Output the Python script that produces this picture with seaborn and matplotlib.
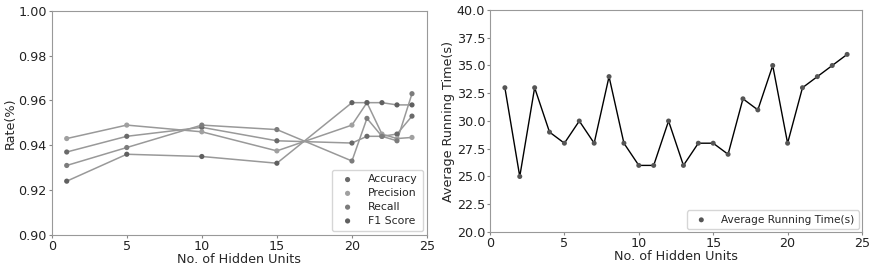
import numpy as np
import pandas as pd
from matplotlib import pyplot as plt
import seaborn as sns

# hidden units used for the rate plot
units = [1, 5, 10, 15, 20, 21, 22, 23, 24]
accuracy = [0.937, 0.944, 0.948, 0.942, 0.941, 0.944, 0.944, 0.945, 0.953]
precision = [0.943, 0.949, 0.946, 0.9375, 0.949, 0.959, 0.945, 0.943, 0.9435]
recall = [0.931, 0.939, 0.949, 0.947, 0.933, 0.952, 0.944, 0.942, 0.963]
f1_score = [0.924, 0.936, 0.935, 0.932, 0.959, 0.959, 0.959, 0.958, 0.958]

# running time for every hidden unit count
units_time = list(range(1, 25))
run_time = [33, 25, 33, 29, 28, 30, 28, 34, 28, 26, 26, 30,
            26, 28, 28, 27, 32, 31, 35, 28, 33, 34, 35, 36]

sns.set_style("ticks")
plt.rcParams['font.family'] = ['DejaVu Sans']
plt.rcParams['axes.edgecolor'] = '#999999'
plt.rcParams['xtick.color'] = '#888888'
plt.rcParams['ytick.color'] = '#888888'
plt.rcParams['xtick.labelcolor'] = '#222222'
plt.rcParams['ytick.labelcolor'] = '#222222'

fig = plt.figure(figsize=(8.73, 2.73), dpi=100)
ax1 = fig.add_axes([51.7 / 873, 38 / 273, (427 - 51.7) / 873, (235 - 10.7) / 273])
ax2 = fig.add_axes([490 / 873, 41 / 273, (862 - 490) / 873, (232 - 10) / 273])

fs = 9.2
series = [('Accuracy', accuracy, '#6a6a6a'),
          ('Precision', precision, '#a0a0a0'),
          ('Recall', recall, '#7c7c7c'),
          ('F1 Score', f1_score, '#606060')]

for name, vals, c in series:
    df = pd.DataFrame({'units': units, 'rate': vals})
    sns.lineplot(data=df, x='units', y='rate', ax=ax1, color='#999999', linewidth=1.1)
for name, vals, c in series:
    df = pd.DataFrame({'units': units, 'rate': vals})
    sns.scatterplot(data=df, x='units', y='rate', ax=ax1, color=c, s=14,
                    edgecolor='none', label=name, zorder=3)

ax1.set_xlim(0, 25)
ax1.set_ylim(0.90, 1.00)
ax1.set_yticks([0.90, 0.92, 0.94, 0.96, 0.98, 1.00])
ax1.set_xticks([0, 5, 10, 15, 20, 25])
ax1.set_xlabel('No. of Hidden Units', fontsize=fs, labelpad=0)
ax1.set_ylabel('Rate(%)', fontsize=fs, labelpad=1)
ax1.tick_params(labelsize=fs, length=2.5, pad=1)
ax1.legend(loc='lower right', fontsize=7.8, frameon=True, handletextpad=0.9,
           borderpad=0.45, labelspacing=0.35, borderaxespad=0.4)

dft = pd.DataFrame({'units': units_time, 'time': run_time})
sns.lineplot(data=dft, x='units', y='time', ax=ax2, color='black', linewidth=1.0)
sns.scatterplot(data=dft, x='units', y='time', ax=ax2, color='#555555', s=13,
                edgecolor='none', label='Average Running Time(s)', zorder=3)
ax2.set_xlim(0, 25)
ax2.set_ylim(20, 40)
ax2.set_yticks(np.arange(20, 40.1, 2.5))
ax2.set_xticks([0, 5, 10, 15, 20, 25])
ax2.set_xlabel('No. of Hidden Units', fontsize=fs, labelpad=0)
ax2.set_ylabel('Average Running Time(s)', fontsize=fs, labelpad=1)
ax2.tick_params(labelsize=fs, length=2.5, pad=1)
ax2.legend(loc='lower right', fontsize=7.6, frameon=True, handletextpad=0.9,
           borderaxespad=0.3)

plt.savefig('out.png', dpi=100)
